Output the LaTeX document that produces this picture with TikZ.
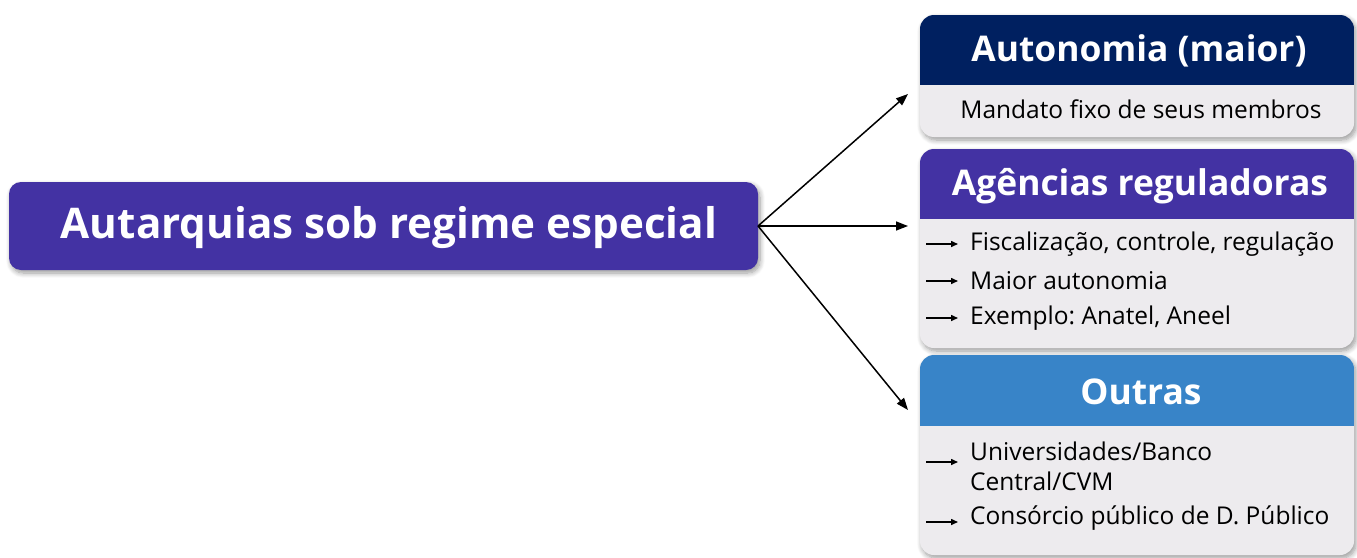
\documentclass[tikz,border=0pt]{standalone}
\usepackage{fontspec}
\setmainfont{Open Sans}
\frenchspacing
\usetikzlibrary{arrows.meta,shadows.blur}
\definecolor{navy}{HTML}{002060}
\definecolor{purp}{HTML}{4332A3}
\definecolor{sky}{HTML}{3884C8}
\definecolor{bodygray}{HTML}{EDEBEE}
\begin{document}
\begin{tikzpicture}[x=1pt,y=-1pt,
  shad/.style={blur shadow={shadow xshift=2pt,shadow yshift=-3pt,shadow blur steps=8,shadow blur radius=5pt,shadow opacity=40}},
  card/.style={fill=bodygray,rounded corners=14pt,shad},
  titletext/.style={text=white,font=\fontsize{42.2}{48}\selectfont\bfseries,inner sep=0pt},
  headtext/.style={text=white,font=\fontsize{35.4}{40}\selectfont\bfseries,inner sep=0pt},
  bodytext/.style={text=black,font=\fontsize{24.5}{30}\selectfont,inner sep=0pt,anchor=west,align=left},
  bigarrow/.style={draw=black,line width=1.5pt,-{Triangle[length=12pt,width=9pt]}},
  smallarrow/.style={draw=black,line width=1.5pt,-{Triangle[length=7pt,width=6pt]}}]
\useasboundingbox (0,0) rectangle (1357,557);

% main box
\fill[purp,rounded corners=12pt,shad] (9,182) rectangle (758,270);
\node[titletext] (main) at (389,228) {Autarquias sob regime especial};
\coordinate (src) at (758,226);

% card 1
\fill[card] (920,15) rectangle (1354,137);
\begin{scope}
\clip[rounded corners=14pt] (920,15) rectangle (1354,137);
\fill[navy] (920,15) rectangle (1354,85);
\end{scope}
\node[headtext] (h1) at (1139,51) {Autonomia (maior)};
\node[text=black,font=\fontsize{24.5}{30}\selectfont,inner sep=0pt] (b1) at (1141,109) {Mandato fixo de seus membros};
\coordinate (t1) at (908,94);

% card 2
\fill[card] (920,149) rectangle (1354,348);
\begin{scope}
\clip[rounded corners=14pt] (920,149) rectangle (1354,348);
\fill[purp] (920,149) rectangle (1354,219);
\end{scope}
\node[headtext] (h2) at (1140,186) {Agências reguladoras};
\node[bodytext] (b21) at (970,244) {Fiscalização, controle, regulação};
\node[bodytext] (b22) at (970,281) {Maior autonomia};
\node[bodytext] (b23) at (970,318) {Exemplo: Anatel, Aneel};
\coordinate (t2) at (908,226);
\coordinate (a21) at (926,244);
\coordinate (a22) at (926,281);
\coordinate (a23) at (926,318);
\coordinate (e21) at (958,244);
\coordinate (e22) at (958,281);
\coordinate (e23) at (958,318);

% card 3
\fill[card] (920,355) rectangle (1354,555);
\begin{scope}
\clip[rounded corners=14pt] (920,355) rectangle (1354,555);
\fill[sky] (920,355) rectangle (1354,426);
\end{scope}
\node[headtext] (h3) at (1141,392) {Outras};
\node[bodytext] (b31) at (970,466) {Universidades/Banco\\Central/CVM};
\node[bodytext] (b32) at (970,518) {Consórcio público de D. Público};
\coordinate (t3) at (908,410);
\coordinate (a31) at (926,462);
\coordinate (a32) at (926,522);
\coordinate (e31) at (958,462);
\coordinate (e32) at (958,522);

% connectors
\draw[bigarrow] (src) -- (t1);
\draw[bigarrow] (src) -- (t2);
\draw[bigarrow] (src) -- (t3);
\draw[smallarrow] (a21) -- (e21);
\draw[smallarrow] (a22) -- (e22);
\draw[smallarrow] (a23) -- (e23);
\draw[smallarrow] (a31) -- (e31);
\draw[smallarrow] (a32) -- (e32);
\end{tikzpicture}
\end{document}
